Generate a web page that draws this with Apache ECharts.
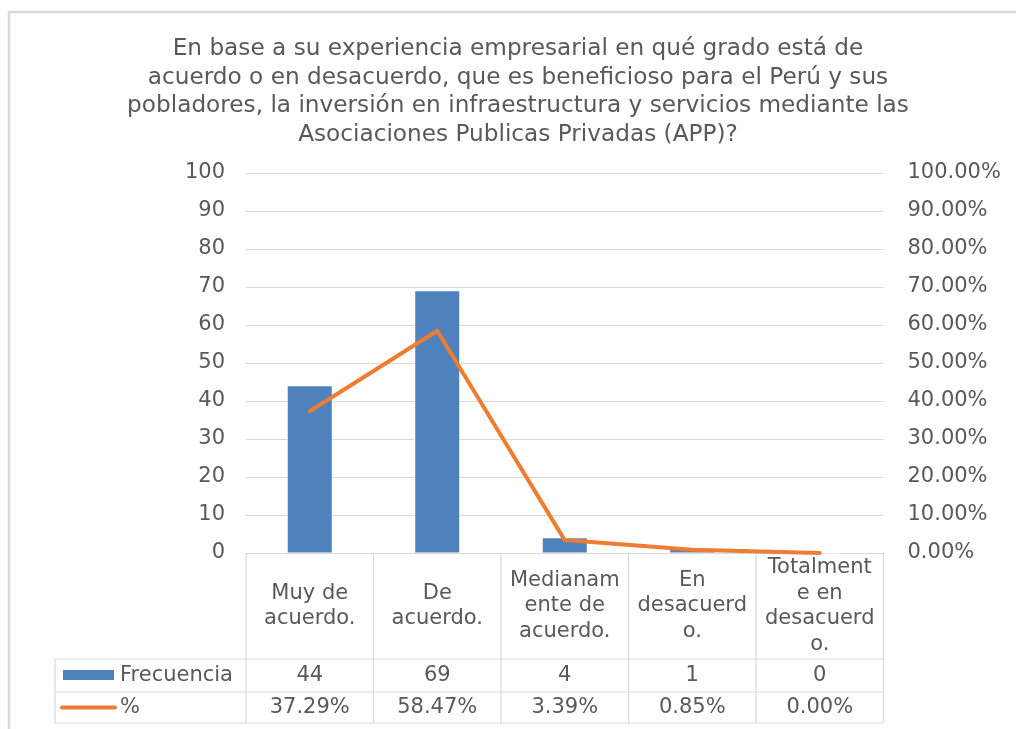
<!DOCTYPE html>
<html>
<head>
<meta charset="utf-8">
<style>
body { margin: 0; background: #fff; }
#container { width: 1016px; height: 729px; }
</style>
<script src="https://cdn.jsdelivr.net/npm/echarts@6/dist/echarts.min.js"></script>
</head>
<body>
<div id="container"></div>
<script type="text/javascript">
// chart data
var titleText = 'En base a su experiencia empresarial en qué grado está de\nacuerdo o en desacuerdo, que es beneficioso para el Perú y sus\npobladores, la inversión en infraestructura y servicios mediante las\nAsociaciones Publicas Privadas (APP)?';
var categories = ['Muy de\nacuerdo.', 'De\nacuerdo.', 'Medianam\nente de\nacuerdo.', 'En\ndesacuerd\no.', 'Totalment\ne en\ndesacuerd\no.'];
var frecuencia = [44, 69, 4, 1, 0];
var porcentaje = [37.29, 58.47, 3.39, 0.85, 0.00];
var seriesNames = ['Frecuencia', '%'];

var FONT = '"DejaVu Sans", "Liberation Sans", Arial, sans-serif';
var TXT = '#595959';
var LINE = '#d9d9d9';

// layout of plot area (pixels)
var gridLeft = 246, gridRight = 883.5, gridTop = 173, gridBottom = 553;
var rowTop = [659, 692, 723];
var tableLeft = 55;

var container = document.getElementById('container');
var myChart = echarts.init(container);

function buildTable() {
    var g = [];
    var catW = (gridRight - gridLeft) / categories.length;
    // outer chart border
    g.push({ type: 'rect', shape: { x: 9, y: 12, width: 1100, height: 800 },
        style: { fill: 'none', stroke: LINE, lineWidth: 2.5 }, silent: true });
    // vertical lines at category boundaries
    for (var i = 0; i <= categories.length; i++) {
        var x = gridLeft + catW * i;
        g.push({ type: 'line', shape: { x1: x, y1: gridBottom, x2: x, y2: rowTop[2] },
            style: { stroke: LINE, lineWidth: 1.2 }, silent: true });
    }
    g.push({ type: 'line', shape: { x1: tableLeft, y1: rowTop[0], x2: tableLeft, y2: rowTop[2] },
        style: { stroke: LINE, lineWidth: 1.2 }, silent: true });
    for (var r = 0; r < rowTop.length; r++) {
        g.push({ type: 'line', shape: { x1: tableLeft, y1: rowTop[r], x2: gridRight, y2: rowTop[r] },
            style: { stroke: LINE, lineWidth: 1.2 }, silent: true });
    }
    // legend keys
    g.push({ type: 'rect', shape: { x: 63, y: 670, width: 51, height: 10 },
        style: { fill: '#4f81bd' }, silent: true });
    g.push({ type: 'line', shape: { x1: 62, y1: 707.5, x2: 115, y2: 707.5 },
        style: { stroke: '#ed7d31', lineWidth: 4, lineCap: 'round' }, silent: true });
    var rowMid = [(rowTop[0] + rowTop[1]) / 2, (rowTop[1] + rowTop[2]) / 2];
    for (var k = 0; k < seriesNames.length; k++) {
        g.push({ type: 'text', x: 120, y: rowMid[k],
            style: { text: seriesNames[k], fill: TXT, font: '21px ' + FONT, textAlign: 'left', textVerticalAlign: 'middle' }, silent: true });
    }
    for (var j = 0; j < categories.length; j++) {
        var cx = gridLeft + catW * (j + 0.5);
        g.push({ type: 'text', x: cx, y: rowMid[0],
            style: { text: String(frecuencia[j]), fill: TXT, font: '21px ' + FONT, textAlign: 'center', textVerticalAlign: 'middle' }, silent: true });
        g.push({ type: 'text', x: cx, y: rowMid[1],
            style: { text: porcentaje[j].toFixed(2) + '%', fill: TXT, font: '21px ' + FONT, textAlign: 'center', textVerticalAlign: 'middle' }, silent: true });
    }
    return g;
}

var option = {
    backgroundColor: '#fff',
    animation: false,
    title: {
        text: titleText,
        left: 513,
        top: 30,
        textAlign: 'center',
        textStyle: { color: TXT, fontSize: 23.2, fontWeight: 'normal', fontFamily: FONT, lineHeight: 28.5 }
    },
    grid: {
        left: gridLeft,
        right: 1016 - gridRight,
        top: gridTop,
        bottom: 729 - gridBottom,
        containLabel: false
    },
    xAxis: {
        type: 'category',
        data: categories,
        axisTick: { show: false },
        axisLine: { lineStyle: { color: LINE, width: 1.2 } },
        axisLabel: {
            interval: 0,
            color: TXT,
            fontSize: 21,
            fontFamily: FONT,
            lineHeight: 25.5,
            verticalAlign: 'middle',
            margin: 53
        }
    },
    yAxis: [{
        type: 'value',
        min: 0,
        max: 100,
        interval: 10,
        axisLine: { show: false },
        axisTick: { show: false },
        axisLabel: { color: TXT, fontSize: 21, fontFamily: FONT, margin: 21 },
        splitLine: { lineStyle: { color: LINE, width: 1.2 } }
    }, {
        type: 'value',
        min: 0,
        max: 100,
        interval: 10,
        position: 'right',
        axisLine: { show: false },
        axisTick: { show: false },
        splitLine: { show: false },
        axisLabel: {
            color: TXT, fontSize: 21, fontFamily: FONT, margin: 24,
            formatter: function (v) { return v.toFixed(2) + '%'; }
        }
    }],
    series: [{
        name: seriesNames[0],
        type: 'bar',
        data: frecuencia,
        barWidth: 45,
        itemStyle: { color: '#4f81bd', borderColor: '#fff', borderWidth: 0.5 }
    }, {
        name: seriesNames[1],
        type: 'line',
        yAxisIndex: 1,
        data: porcentaje,
        showSymbol: false,
        symbol: 'none',
        lineStyle: { color: '#ed7d31', width: 4, cap: 'round', join: 'round' },
        z: 5
    }],
    graphic: buildTable()
};

if (option && typeof option === "object") {
    myChart.setOption(option, true);
}
</script>
</body>
</html>
